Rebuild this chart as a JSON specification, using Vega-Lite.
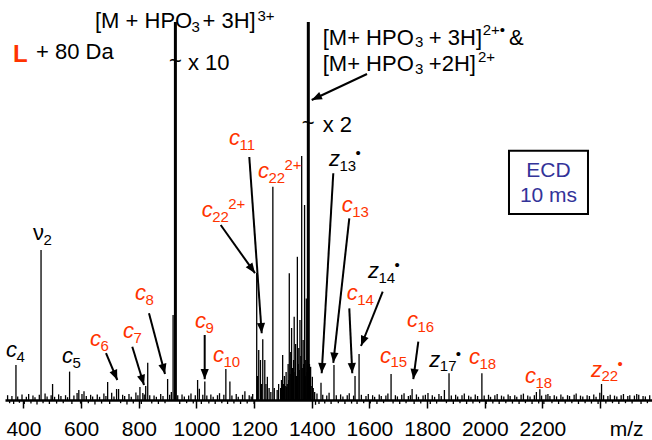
{
  "$schema": "https://vega.github.io/schema/vega-lite/v6.json",
  "width": 647,
  "height": 400,
  "autosize": {"type": "none"},
  "padding": {"left": 5, "top": 0, "right": 0, "bottom": 40},
  "background": "white",
  "config": {"view": {"stroke": null}, "font": "Liberation Sans"},
  "datasets": {
    "peaks": [
      {"mz": 374, "I": 8.75}, {"mz": 461, "I": 37.5}, {"mz": 501, "I": 4}, {"mz": 560, "I": 7.1},
      {"mz": 586, "I": 1.75}, {"mz": 603, "I": 1.5}, {"mz": 692, "I": 4.5}, {"mz": 723, "I": 2.75},
      {"mz": 730, "I": 2.75}, {"mz": 804, "I": 3.25}, {"mz": 814, "I": 1.75}, {"mz": 824, "I": 3.5},
      {"mz": 831, "I": 9.3}, {"mz": 900, "I": 5.25}, {"mz": 919, "I": 21.25}, {"mz": 927, "I": 94.5},
      {"mz": 1004, "I": 5}, {"mz": 1029, "I": 4.6}, {"mz": 1102, "I": 7.75}, {"mz": 1116, "I": 4.6},
      {"mz": 1195, "I": 1.5}, {"mz": 1209, "I": 31.75}, {"mz": 1212, "I": 6}, {"mz": 1216, "I": 12.5},
      {"mz": 1222, "I": 10}, {"mz": 1226, "I": 4}, {"mz": 1230, "I": 15.2}, {"mz": 1237, "I": 10},
      {"mz": 1241, "I": 4}, {"mz": 1246, "I": 5.8}, {"mz": 1252, "I": 3}, {"mz": 1258, "I": 2},
      {"mz": 1265, "I": 53.3}, {"mz": 1270, "I": 3}, {"mz": 1280, "I": 2.5}, {"mz": 1285, "I": 4},
      {"mz": 1292, "I": 3}, {"mz": 1295, "I": 5}, {"mz": 1297, "I": 2.5}, {"mz": 1299, "I": 11.25},
      {"mz": 1302, "I": 4}, {"mz": 1305, "I": 6}, {"mz": 1308, "I": 3.5}, {"mz": 1311, "I": 7},
      {"mz": 1313, "I": 3.3}, {"mz": 1315, "I": 4}, {"mz": 1318, "I": 9}, {"mz": 1320, "I": 5},
      {"mz": 1322, "I": 31.7}, {"mz": 1325, "I": 6.5}, {"mz": 1327, "I": 12}, {"mz": 1330, "I": 18},
      {"mz": 1333, "I": 8}, {"mz": 1335, "I": 5.5}, {"mz": 1337, "I": 10}, {"mz": 1339, "I": 20.8},
      {"mz": 1342, "I": 7}, {"mz": 1344, "I": 14}, {"mz": 1347, "I": 6}, {"mz": 1350, "I": 35.8},
      {"mz": 1353, "I": 9}, {"mz": 1355, "I": 13}, {"mz": 1357, "I": 7.5}, {"mz": 1359, "I": 20},
      {"mz": 1362, "I": 11}, {"mz": 1365, "I": 61}, {"mz": 1367, "I": 8}, {"mz": 1370, "I": 15},
      {"mz": 1372, "I": 9}, {"mz": 1375, "I": 48.75}, {"mz": 1377, "I": 6}, {"mz": 1379, "I": 10},
      {"mz": 1381, "I": 25.4}, {"mz": 1384, "I": 7}, {"mz": 1386, "I": 12}, {"mz": 1388, "I": 94.5},
      {"mz": 1390, "I": 6}, {"mz": 1392, "I": 9}, {"mz": 1394, "I": 4}, {"mz": 1396, "I": 8.3},
      {"mz": 1398, "I": 3.5}, {"mz": 1402, "I": 5.8}, {"mz": 1405, "I": 3}, {"mz": 1410, "I": 2},
      {"mz": 1432, "I": 4.3}, {"mz": 1477, "I": 8.75}, {"mz": 1550, "I": 6}, {"mz": 1564, "I": 11.5},
      {"mz": 1675, "I": 6.5}, {"mz": 1748, "I": 2.75}, {"mz": 1803, "I": 1.75}, {"mz": 1860, "I": 2.5},
      {"mz": 1876, "I": 6.7}, {"mz": 1990, "I": 6.7}, {"mz": 2191, "I": 2.7}, {"mz": 2219, "I": 1.5},
      {"mz": 2405, "I": 4}, {"mz": 2527, "I": 1.5},
      {"mz": 345, "I": 1.2}, {"mz": 352, "I": -0.8}, {"mz": 360, "I": 1.0}, {"mz": 366, "I": -1.0},
      {"mz": 380, "I": 0.9}, {"mz": 386, "I": -0.7}, {"mz": 395, "I": 1.4}, {"mz": 403, "I": -1.0},
      {"mz": 410, "I": 0.8}, {"mz": 418, "I": 1.5}, {"mz": 426, "I": -0.9}, {"mz": 433, "I": 1.1},
      {"mz": 440, "I": 0.7}, {"mz": 447, "I": -1.1}, {"mz": 455, "I": 1.3}, {"mz": 468, "I": -0.8},
      {"mz": 475, "I": 1.6}, {"mz": 482, "I": 0.9}, {"mz": 490, "I": -1.0}, {"mz": 496, "I": 1.2},
      {"mz": 508, "I": 0.8}, {"mz": 515, "I": -0.9}, {"mz": 522, "I": 1.4}, {"mz": 530, "I": 1.0},
      {"mz": 538, "I": -0.8}, {"mz": 546, "I": 1.2}, {"mz": 553, "I": 0.7}, {"mz": 568, "I": -1.0},
      {"mz": 575, "I": 1.1}, {"mz": 592, "I": 2.5}, {"mz": 598, "I": -0.9}, {"mz": 610, "I": 2.2},
      {"mz": 618, "I": 1.0}, {"mz": 625, "I": -0.8}, {"mz": 633, "I": 1.3}, {"mz": 640, "I": 0.9},
      {"mz": 648, "I": -1.1}, {"mz": 656, "I": 1.4}, {"mz": 664, "I": 0.8}, {"mz": 671, "I": -0.9},
      {"mz": 679, "I": 1.6}, {"mz": 686, "I": 1.0}, {"mz": 699, "I": -1.0}, {"mz": 706, "I": 1.8},
      {"mz": 714, "I": 0.9}, {"mz": 737, "I": -0.8}, {"mz": 744, "I": 1.3}, {"mz": 751, "I": 1.0},
      {"mz": 759, "I": -1.1}, {"mz": 766, "I": 1.5}, {"mz": 774, "I": 0.8}, {"mz": 781, "I": -0.9},
      {"mz": 790, "I": 1.9}, {"mz": 797, "I": 1.2}, {"mz": 809, "I": -1.0}, {"mz": 819, "I": 1.4},
      {"mz": 838, "I": 1.2}, {"mz": 845, "I": -0.9}, {"mz": 853, "I": 1.1}, {"mz": 861, "I": 0.8},
      {"mz": 868, "I": -1.0}, {"mz": 876, "I": 1.5}, {"mz": 884, "I": 1.0}, {"mz": 891, "I": -0.8},
      {"mz": 907, "I": 1.3}, {"mz": 913, "I": 2.0}, {"mz": 935, "I": 1.2}, {"mz": 942, "I": -1.0},
      {"mz": 950, "I": 1.4}, {"mz": 958, "I": 0.9}, {"mz": 966, "I": -0.8}, {"mz": 973, "I": 1.1},
      {"mz": 981, "I": 1.6}, {"mz": 989, "I": -0.9}, {"mz": 996, "I": 1.2}, {"mz": 1010, "I": 2.8},
      {"mz": 1017, "I": -1.0}, {"mz": 1022, "I": 1.3}, {"mz": 1036, "I": 1.1}, {"mz": 1043, "I": -0.9},
      {"mz": 1050, "I": 1.4}, {"mz": 1058, "I": 0.8}, {"mz": 1065, "I": -1.0}, {"mz": 1073, "I": 1.2},
      {"mz": 1080, "I": 1.7}, {"mz": 1088, "I": -0.8}, {"mz": 1095, "I": 1.3}, {"mz": 1108, "I": -1.0},
      {"mz": 1123, "I": 1.1}, {"mz": 1130, "I": -0.9}, {"mz": 1138, "I": 1.5}, {"mz": 1145, "I": 0.8},
      {"mz": 1153, "I": -1.0}, {"mz": 1160, "I": 1.3}, {"mz": 1168, "I": 2.2}, {"mz": 1176, "I": -0.9},
      {"mz": 1183, "I": 1.2}, {"mz": 1190, "I": 0.9}, {"mz": 1200, "I": -1.0}, {"mz": 1413, "I": -1.2},
      {"mz": 1418, "I": 1.6}, {"mz": 1425, "I": -1.0}, {"mz": 1438, "I": 1.3}, {"mz": 1445, "I": -0.9},
      {"mz": 1452, "I": 1.1}, {"mz": 1460, "I": 1.8}, {"mz": 1467, "I": -1.0}, {"mz": 1485, "I": 1.2},
      {"mz": 1492, "I": -0.8}, {"mz": 1500, "I": 1.4}, {"mz": 1508, "I": 0.9}, {"mz": 1515, "I": -1.0},
      {"mz": 1523, "I": 1.2}, {"mz": 1530, "I": 1.7}, {"mz": 1538, "I": -0.9}, {"mz": 1545, "I": 1.1},
      {"mz": 1557, "I": -1.0}, {"mz": 1572, "I": 1.3}, {"mz": 1580, "I": -0.8}, {"mz": 1588, "I": 1.0},
      {"mz": 1596, "I": 1.5}, {"mz": 1603, "I": -0.9}, {"mz": 1611, "I": 1.2}, {"mz": 1618, "I": 0.8},
      {"mz": 1626, "I": -1.0}, {"mz": 1634, "I": 1.4}, {"mz": 1641, "I": 1.0}, {"mz": 1649, "I": -0.8},
      {"mz": 1657, "I": 1.1}, {"mz": 1664, "I": 1.6}, {"mz": 1682, "I": -0.9}, {"mz": 1690, "I": 1.2},
      {"mz": 1697, "I": 0.9}, {"mz": 1705, "I": -1.0}, {"mz": 1712, "I": 1.3}, {"mz": 1720, "I": 1.7},
      {"mz": 1727, "I": -0.8}, {"mz": 1735, "I": 1.0}, {"mz": 1742, "I": 1.2}, {"mz": 1755, "I": -1.0},
      {"mz": 1763, "I": 1.4}, {"mz": 1770, "I": 0.8}, {"mz": 1778, "I": -0.9}, {"mz": 1786, "I": 1.1},
      {"mz": 1794, "I": 1.3}, {"mz": 1811, "I": -1.0}, {"mz": 1818, "I": 1.2}, {"mz": 1826, "I": 0.8},
      {"mz": 1833, "I": -0.9}, {"mz": 1841, "I": 1.5}, {"mz": 1849, "I": 1.0}, {"mz": 1867, "I": -0.8},
      {"mz": 1884, "I": 1.1}, {"mz": 1891, "I": -1.0}, {"mz": 1899, "I": 1.3}, {"mz": 1906, "I": 0.9},
      {"mz": 1914, "I": -0.8}, {"mz": 1921, "I": 1.2}, {"mz": 1929, "I": 1.6}, {"mz": 1937, "I": -1.0},
      {"mz": 1944, "I": 1.1}, {"mz": 1952, "I": 0.8}, {"mz": 1959, "I": -0.9}, {"mz": 1967, "I": 1.4},
      {"mz": 1975, "I": 1.0}, {"mz": 1982, "I": -0.8}, {"mz": 1998, "I": 1.1}, {"mz": 2005, "I": -1.0},
      {"mz": 2013, "I": 1.3}, {"mz": 2020, "I": 0.8}, {"mz": 2028, "I": -0.9}, {"mz": 2035, "I": 1.2},
      {"mz": 2043, "I": 1.5}, {"mz": 2050, "I": -1.0}, {"mz": 2058, "I": 1.1}, {"mz": 2066, "I": 0.9},
      {"mz": 2073, "I": -0.8}, {"mz": 2081, "I": 1.4}, {"mz": 2088, "I": 1.0}, {"mz": 2096, "I": -0.9},
      {"mz": 2104, "I": 1.2}, {"mz": 2111, "I": 0.8}, {"mz": 2119, "I": -1.0}, {"mz": 2126, "I": 1.3},
      {"mz": 2134, "I": 1.6}, {"mz": 2141, "I": -0.8}, {"mz": 2149, "I": 1.1}, {"mz": 2157, "I": 0.9},
      {"mz": 2164, "I": -1.0}, {"mz": 2172, "I": 1.2}, {"mz": 2179, "I": 2.0}, {"mz": 2187, "I": -0.9},
      {"mz": 2197, "I": 1.1}, {"mz": 2205, "I": -1.0}, {"mz": 2212, "I": 1.3}, {"mz": 2226, "I": 1.0},
      {"mz": 2233, "I": -0.8}, {"mz": 2241, "I": 1.2}, {"mz": 2249, "I": 0.9}, {"mz": 2256, "I": -1.0},
      {"mz": 2264, "I": 1.4}, {"mz": 2271, "I": 0.8}, {"mz": 2279, "I": -0.9}, {"mz": 2287, "I": 1.2},
      {"mz": 2294, "I": 1.0}, {"mz": 2302, "I": -0.8}, {"mz": 2310, "I": 1.3}, {"mz": 2317, "I": 1.6},
      {"mz": 2325, "I": -1.0}, {"mz": 2332, "I": 1.1}, {"mz": 2340, "I": 0.9}, {"mz": 2348, "I": -0.8},
      {"mz": 2355, "I": 1.2}, {"mz": 2363, "I": 1.0}, {"mz": 2370, "I": -0.9}, {"mz": 2378, "I": 1.4},
      {"mz": 2386, "I": 0.8}, {"mz": 2393, "I": -1.0}, {"mz": 2399, "I": 1.8}, {"mz": 2412, "I": 1.2},
      {"mz": 2420, "I": -0.9}, {"mz": 2427, "I": 1.0}, {"mz": 2435, "I": 1.3}, {"mz": 2443, "I": -0.8},
      {"mz": 2450, "I": 1.1}, {"mz": 2458, "I": 0.9}, {"mz": 2465, "I": -1.0}, {"mz": 2473, "I": 1.2},
      {"mz": 2481, "I": 1.5}, {"mz": 2488, "I": -0.8}, {"mz": 2496, "I": 1.0}, {"mz": 2503, "I": 1.2},
      {"mz": 2511, "I": -0.9}, {"mz": 2519, "I": 1.1}, {"mz": 2534, "I": 1.3}, {"mz": 2542, "I": -1.0},
      {"mz": 2549, "I": 1.0}, {"mz": 2557, "I": 0.9}, {"mz": 2564, "I": -0.8}, {"mz": 2572, "I": 1.2}
    ],
    "labels": [
      {"mz": 339.5, "I": 10.75, "main": "c", "sub": "4", "sup": "", "ion": "unmodified"},
      {"mz": 433, "I": 40, "main": "ν", "sub": "2", "sup": "", "ion": "unmodified"},
      {"mz": 533.7, "I": 9.25, "main": "c", "sub": "5", "sup": "", "ion": "unmodified"},
      {"mz": 630.8, "I": 13.5, "main": "c", "sub": "6", "sup": "", "ion": "+80 Da"},
      {"mz": 745.3, "I": 15.5, "main": "c", "sub": "7", "sup": "", "ion": "+80 Da"},
      {"mz": 786.9, "I": 25, "main": "c", "sub": "8", "sup": "", "ion": "+80 Da"},
      {"mz": 995, "I": 18, "main": "c", "sub": "9", "sup": "", "ion": "+80 Da"},
      {"mz": 1057.4, "I": 9.5, "main": "c", "sub": "10", "sup": "", "ion": "+80 Da"},
      {"mz": 1112.9, "I": 63.75, "main": "c", "sub": "11", "sup": "", "ion": "+80 Da"},
      {"mz": 1213.5, "I": 55.5, "main": "c", "sub": "22", "sup": "2+", "ion": "+80 Da"},
      {"mz": 1018.2, "I": 45.75, "main": "c", "sub": "22", "sup": "2+", "ion": "+80 Da"},
      {"mz": 1459.7, "I": 58.5, "main": "z", "sub": "13", "sup": "•", "ion": "unmodified"},
      {"mz": 1503.8, "I": 47, "main": "c", "sub": "13", "sup": "", "ion": "+80 Da"},
      {"mz": 1595, "I": 30.5, "main": "z", "sub": "14", "sup": "•", "ion": "unmodified"},
      {"mz": 1521.1, "I": 25, "main": "c", "sub": "14", "sup": "", "ion": "+80 Da"},
      {"mz": 1636.6, "I": 9.3, "main": "c", "sub": "15", "sup": "", "ion": "+80 Da"},
      {"mz": 1730.3, "I": 18.2, "main": "c", "sub": "16", "sup": "", "ion": "+80 Da"},
      {"mz": 1807.6, "I": 8.3, "main": "z", "sub": "17", "sup": "•", "ion": "unmodified"},
      {"mz": 1945.3, "I": 9, "main": "c", "sub": "18", "sup": "", "ion": "+80 Da"},
      {"mz": 2139.5, "I": 4.2, "main": "c", "sub": "18", "sup": "", "ion": "+80 Da"},
      {"mz": 2368.4, "I": 5.8, "main": "z", "sub": "22", "sup": "•", "ion": "+80 Da"}
    ],
    "texts": [
      {"mz": 648.1, "I": 93, "text": "[M + HPO", "part": "main"},
      {"mz": 982.8, "I": 92.1, "text": "3", "part": "sub"},
      {"mz": 1021, "I": 93, "text": "+ 3H]", "part": "main"},
      {"mz": 1211.8, "I": 94.75, "text": "3+", "part": "sup"},
      {"mz": 363.7, "I": 84.5, "text": "L", "part": "marker"},
      {"mz": 443.5, "I": 85.25, "text": "+ 80 Da", "part": "main"},
      {"mz": 927.3, "I": 83, "text": "~", "part": "break"},
      {"mz": 970.7, "I": 82.5, "text": "x 10", "part": "main"},
      {"mz": 1437.9, "I": 88.75, "text": "[M+ HPO", "part": "main"},
      {"mz": 1758, "I": 88.25, "text": "3", "part": "sub"},
      {"mz": 1806, "I": 88.75, "text": "+ 3H]", "part": "main"},
      {"mz": 1992.8, "I": 91.25, "text": "2+•", "part": "sup"},
      {"mz": 2084, "I": 88.75, "text": "&", "part": "main"},
      {"mz": 1437.9, "I": 82.3, "text": "[M+ HPO", "part": "main"},
      {"mz": 1758, "I": 81.5, "text": "3", "part": "sub"},
      {"mz": 1806, "I": 82.3, "text": "+2H]", "part": "main"},
      {"mz": 1976.5, "I": 84.5, "text": "2+", "part": "sup"},
      {"mz": 1387.9, "I": 67.5, "text": "~", "part": "break"},
      {"mz": 1437.9, "I": 67, "text": "x 2", "part": "main"},
      {"mz": 2221, "I": 55.8, "text": "ECD", "part": "ecd"},
      {"mz": 2221, "I": 49.6, "text": "10 ms", "part": "ecd"}
    ],
    "arrows": [
      {"mz": 686.3, "I": 11.7, "mz2": 725.5, "I2": 5},
      {"mz": 777.5, "I": 13.3, "mz2": 818.1, "I2": 3.75},
      {"mz": 835.4, "I": 21.7, "mz2": 890.9, "I2": 6.5},
      {"mz": 1028.6, "I": 16.25, "mz2": 1028.6, "I2": 5.2},
      {"mz": 1084.1, "I": 43.75, "mz2": 1203.1, "I2": 31.7},
      {"mz": 1183.3, "I": 60.75, "mz2": 1226.3, "I2": 16.7},
      {"mz": 1474.6, "I": 56.7, "mz2": 1434.4, "I2": 6.7},
      {"mz": 1530.1, "I": 45.4, "mz2": 1474.6, "I2": 9.3},
      {"mz": 1646, "I": 27.1, "mz2": 1570.7, "I2": 13.5},
      {"mz": 1530.1, "I": 22.9, "mz2": 1540.5, "I2": 6.7},
      {"mz": 1769.5, "I": 14.6, "mz2": 1752.1, "I2": 5.2},
      {"mz": 1591.5, "I": 81.5, "mz2": 1399.7, "I2": 75}
    ],
    "box": [
      {"mz": 2084, "mz2": 2358, "I": 62.3, "I2": 46.5}
    ]
  },
  "layer": [
    {
      "data": {"name": "peaks"},
      "mark": {"type": "rule", "color": "black"},
      "encoding": {
        "x": {
          "field": "mz", "type": "quantitative",
          "scale": {"domain": [336, 2580], "nice": false, "zero": false},
          "axis": {
            "values": [400, 500, 600, 700, 800, 900, 1000, 1100, 1200, 1300, 1400, 1500, 1600, 1700, 1800, 1900, 2000, 2100, 2200, 2300, 2400, 2500],
            "format": "d",
            "labelExpr": "(datum.value % 200 === 0 && datum.value <= 2200) ? datum.label : ''",
            "labelFont": "Liberation Sans", "labelFontSize": 21, "labelColor": "black",
            "labelBaseline": "alphabetic", "labelPadding": 27,
            "labelOverlap": false, "labelFlush": false, "labelBound": false,
            "tickSize": 8, "tickWidth": 1.5, "tickColor": "black",
            "domainColor": "black", "domainWidth": 2.5, "grid": false,
            "title": "m/z", "titleFont": "Liberation Sans", "titleFontSize": 21, "titleFontWeight": "normal",
            "titleColor": "black", "titleAlign": "right", "titleBaseline": "alphabetic", "titleAngle": 0,
            "titleX": 638, "titleY": 35
          }
        },
        "y": {"field": "I", "type": "quantitative", "scale": {"domain": [0, 100], "nice": false, "zero": false}, "axis": null},
        "y2": {"datum": 0},
        "strokeWidth": {"condition": {"test": "datum.I > 90", "value": 3}, "value": 1.3}
      }
    },
    {
      "data": {"name": "box"},
      "mark": {"type": "rect", "fill": "white", "stroke": "black", "strokeWidth": 2},
      "encoding": {
        "x": {"field": "mz", "type": "quantitative", "scale": {"domain": [336, 2580], "nice": false, "zero": false}},
        "x2": {"field": "mz2"},
        "y": {"field": "I", "type": "quantitative", "scale": {"domain": [0, 100], "nice": false, "zero": false}, "axis": null},
        "y2": {"field": "I2"}
      }
    },
    {
      "data": {"name": "arrows"},
      "mark": {"type": "rule", "color": "black", "strokeWidth": 2},
      "encoding": {
        "x": {"field": "mz", "type": "quantitative", "scale": {"domain": [336, 2580], "nice": false, "zero": false}},
        "x2": {"field": "mz2"},
        "y": {"field": "I", "type": "quantitative", "scale": {"domain": [0, 100], "nice": false, "zero": false}, "axis": null},
        "y2": {"field": "I2"}
      }
    },
    {
      "data": {"name": "arrows"},
      "transform": [
        {"calculate": "atan2(-(datum.mz2 - datum.mz) * 647 / 2244, (datum.I - datum.I2) * 4) * 180 / PI", "as": "ang"}
      ],
      "mark": {"type": "point", "shape": "M0,0L-0.4,-1L0.4,-1Z", "size": 420, "filled": true, "color": "black", "opacity": 1, "strokeWidth": 0},
      "encoding": {
        "x": {"field": "mz2", "type": "quantitative", "scale": {"domain": [336, 2580], "nice": false, "zero": false}},
        "y": {"field": "I2", "type": "quantitative", "scale": {"domain": [0, 100], "nice": false, "zero": false}, "axis": null},
        "angle": {"field": "ang", "type": "quantitative", "scale": null}
      }
    },
    {
      "data": {"name": "labels"},
      "transform": [{"filter": "datum.main !== 'ν'"}],
      "mark": {"type": "text", "align": "left", "baseline": "alphabetic", "fontSize": 22, "fontStyle": "italic"},
      "encoding": {
        "x": {"field": "mz", "type": "quantitative", "scale": {"domain": [336, 2580], "nice": false, "zero": false}},
        "y": {"field": "I", "type": "quantitative", "scale": {"domain": [0, 100], "nice": false, "zero": false}, "axis": null},
        "text": {"field": "main"},
        "color": {"field": "ion", "type": "nominal", "scale": {"domain": ["+80 Da", "unmodified"], "range": ["#ff3300", "#000000"]}, "legend": null}
      }
    },
    {
      "data": {"name": "labels"},
      "transform": [{"filter": "datum.main === 'ν'"}],
      "mark": {"type": "text", "align": "left", "baseline": "alphabetic", "fontSize": 22},
      "encoding": {
        "x": {"field": "mz", "type": "quantitative", "scale": {"domain": [336, 2580], "nice": false, "zero": false}},
        "y": {"field": "I", "type": "quantitative", "scale": {"domain": [0, 100], "nice": false, "zero": false}, "axis": null},
        "text": {"field": "main"},
        "color": {"field": "ion", "type": "nominal", "scale": {"domain": ["+80 Da", "unmodified"], "range": ["#ff3300", "#000000"]}, "legend": null}
      }
    },
    {
      "data": {"name": "labels"},
      "mark": {"type": "text", "align": "left", "baseline": "alphabetic", "fontSize": 15, "dx": 10.5, "dy": 4.5},
      "encoding": {
        "x": {"field": "mz", "type": "quantitative", "scale": {"domain": [336, 2580], "nice": false, "zero": false}},
        "y": {"field": "I", "type": "quantitative", "scale": {"domain": [0, 100], "nice": false, "zero": false}, "axis": null},
        "text": {"field": "sub"},
        "color": {"field": "ion", "type": "nominal", "scale": {"domain": ["+80 Da", "unmodified"], "range": ["#ff3300", "#000000"]}, "legend": null}
      }
    },
    {
      "data": {"name": "labels"},
      "transform": [{"filter": "datum.sup !== ''"}],
      "mark": {"type": "text", "align": "left", "baseline": "alphabetic", "fontSize": 15, "dx": 26.5, "dy": -8},
      "encoding": {
        "x": {"field": "mz", "type": "quantitative", "scale": {"domain": [336, 2580], "nice": false, "zero": false}},
        "y": {"field": "I", "type": "quantitative", "scale": {"domain": [0, 100], "nice": false, "zero": false}, "axis": null},
        "text": {"field": "sup"},
        "color": {"field": "ion", "type": "nominal", "scale": {"domain": ["+80 Da", "unmodified"], "range": ["#ff3300", "#000000"]}, "legend": null}
      }
    },
    {
      "data": {"name": "texts"},
      "transform": [{"filter": "datum.part === 'main'"}],
      "mark": {"type": "text", "align": "left", "baseline": "alphabetic", "fontSize": 22, "color": "black"},
      "encoding": {
        "x": {"field": "mz", "type": "quantitative", "scale": {"domain": [336, 2580], "nice": false, "zero": false}},
        "y": {"field": "I", "type": "quantitative", "scale": {"domain": [0, 100], "nice": false, "zero": false}, "axis": null},
        "text": {"field": "text"}
      }
    },
    {
      "data": {"name": "texts"},
      "transform": [{"filter": "datum.part === 'sub' || datum.part === 'sup'"}],
      "mark": {"type": "text", "align": "left", "baseline": "alphabetic", "fontSize": 15, "color": "black"},
      "encoding": {
        "x": {"field": "mz", "type": "quantitative", "scale": {"domain": [336, 2580], "nice": false, "zero": false}},
        "y": {"field": "I", "type": "quantitative", "scale": {"domain": [0, 100], "nice": false, "zero": false}, "axis": null},
        "text": {"field": "text"}
      }
    },
    {
      "data": {"name": "texts"},
      "transform": [{"filter": "datum.part === 'break'"}],
      "mark": {"type": "text", "align": "center", "baseline": "alphabetic", "fontSize": 22, "color": "black"},
      "encoding": {
        "x": {"field": "mz", "type": "quantitative", "scale": {"domain": [336, 2580], "nice": false, "zero": false}},
        "y": {"field": "I", "type": "quantitative", "scale": {"domain": [0, 100], "nice": false, "zero": false}, "axis": null},
        "text": {"field": "text"}
      }
    },
    {
      "data": {"name": "texts"},
      "transform": [{"filter": "datum.part === 'marker'"}],
      "mark": {"type": "text", "align": "left", "baseline": "alphabetic", "fontSize": 24, "fontWeight": "bold", "color": "#ff3300"},
      "encoding": {
        "x": {"field": "mz", "type": "quantitative", "scale": {"domain": [336, 2580], "nice": false, "zero": false}},
        "y": {"field": "I", "type": "quantitative", "scale": {"domain": [0, 100], "nice": false, "zero": false}, "axis": null},
        "text": {"field": "text"}
      }
    },
    {
      "data": {"name": "texts"},
      "transform": [{"filter": "datum.part === 'ecd'"}],
      "mark": {"type": "text", "align": "center", "baseline": "alphabetic", "fontSize": 21, "color": "#333399"},
      "encoding": {
        "x": {"field": "mz", "type": "quantitative", "scale": {"domain": [336, 2580], "nice": false, "zero": false}},
        "y": {"field": "I", "type": "quantitative", "scale": {"domain": [0, 100], "nice": false, "zero": false}, "axis": null},
        "text": {"field": "text"}
      }
    }
  ]
}
